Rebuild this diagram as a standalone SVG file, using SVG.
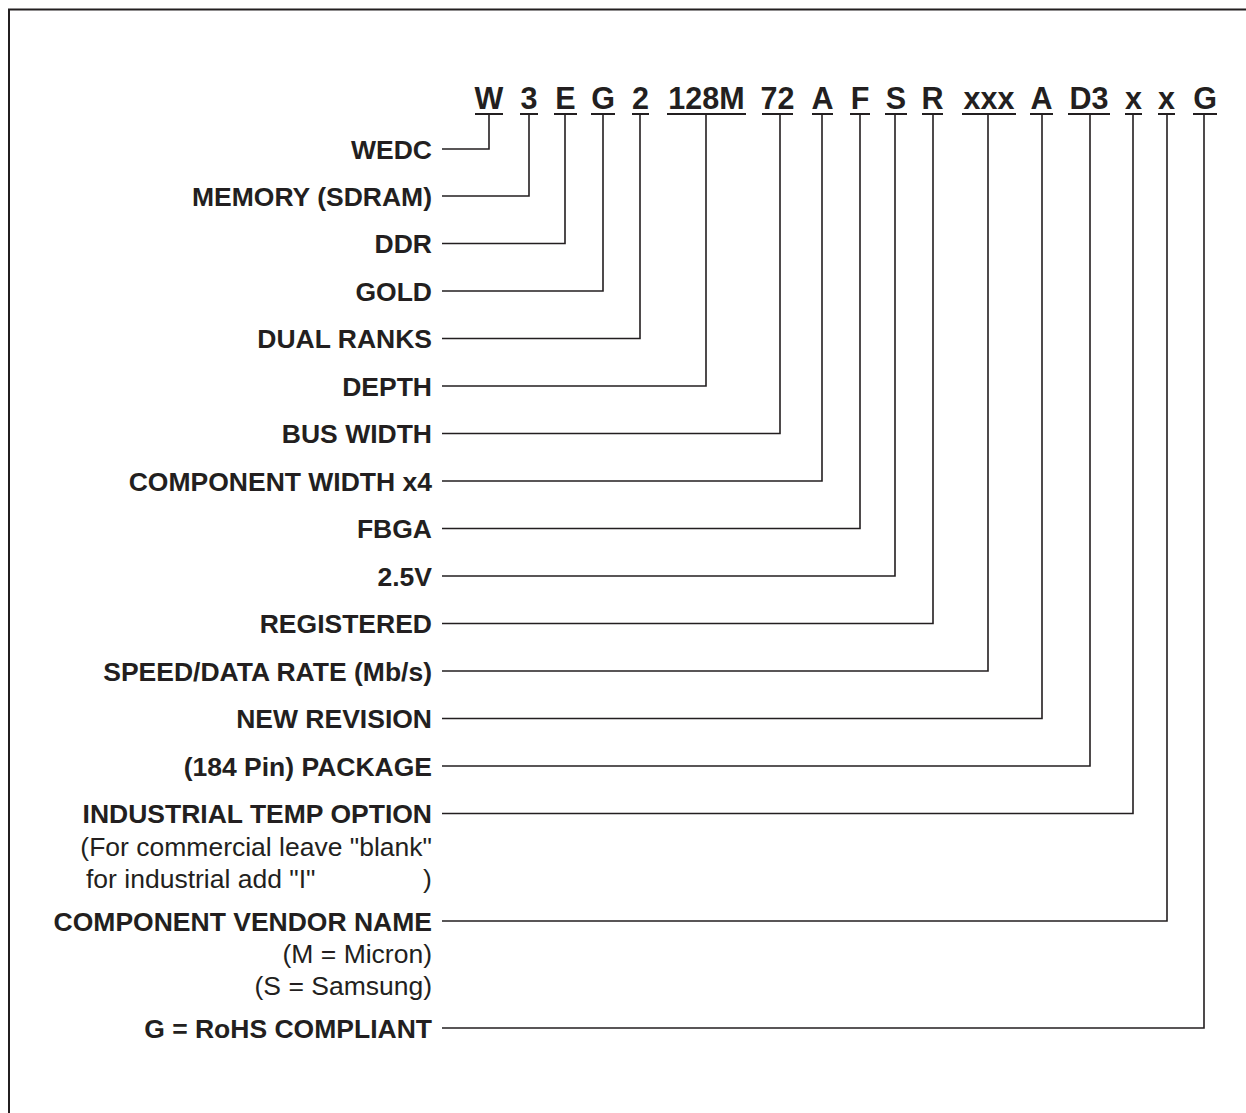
<svg xmlns="http://www.w3.org/2000/svg" width="1246" height="1113" viewBox="0 0 1246 1113">
<style>
.lbl{font-family:"Liberation Sans",Arial,sans-serif;font-weight:bold;font-size:26.5px;fill:#231f20;text-anchor:end}
.sub{font-family:"Liberation Sans",Arial,sans-serif;font-size:26.5px;fill:#231f20}
.hdr{font-family:"Liberation Sans",Arial,sans-serif;font-weight:bold;font-size:30.5px;fill:#231f20;text-anchor:middle}
.ul{stroke:#231f20;stroke-width:2;fill:none}
.con{stroke:#231f20;stroke-width:1.6;fill:none}
</style>
<rect x="9" y="9.5" width="1400" height="1300" fill="#fff" stroke="#231f20" stroke-width="2"/>
<g id="code">
<text class="hdr" x="489" y="109">W</text>
<text class="hdr" x="529" y="109">3</text>
<text class="hdr" x="565.5" y="109">E</text>
<text class="hdr" x="603" y="109">G</text>
<text class="hdr" x="640.5" y="109">2</text>
<text class="hdr" x="706.5" y="109">128M</text>
<text class="hdr" x="777.5" y="109">72</text>
<text class="hdr" x="822.5" y="109">A</text>
<text class="hdr" x="860" y="109">F</text>
<text class="hdr" x="896" y="109">S</text>
<text class="hdr" x="932.5" y="109">R</text>
<text class="hdr" x="989" y="109">xxx</text>
<text class="hdr" x="1041.5" y="109">A</text>
<text class="hdr" x="1089" y="109">D3</text>
<text class="hdr" x="1133.5" y="109">x</text>
<text class="hdr" x="1166.5" y="109">x</text>
<text class="hdr" x="1205" y="109">G</text>
<path class="ul" d="M475 114H503M520 114H538M554 114H577M591 114H615M632 114H649M667 114H746M762 114H793M812 114H833M850 114H870M885 114H907M922 114H943M962 114H1016M1030 114H1053M1068 114H1110M1125 114H1142M1158 114H1175M1193 114H1217"/>
</g>
<g id="labels">
<g id="n-wedc"><text class="lbl" x="432" y="158.5">WEDC</text></g>
<g id="n-memory"><text class="lbl" x="432" y="205.5">MEMORY (SDRAM)</text></g>
<g id="n-ddr"><text class="lbl" x="432" y="253">DDR</text></g>
<g id="n-gold"><text class="lbl" x="432" y="300.5">GOLD</text></g>
<g id="n-dual"><text class="lbl" x="432" y="348">DUAL RANKS</text></g>
<g id="n-depth"><text class="lbl" x="432" y="395.5">DEPTH</text></g>
<g id="n-bus"><text class="lbl" x="432" y="443">BUS WIDTH</text></g>
<g id="n-comp"><text class="lbl" x="432" y="490.5">COMPONENT WIDTH x4</text></g>
<g id="n-fbga"><text class="lbl" x="432" y="538">FBGA</text></g>
<g id="n-volt"><text class="lbl" x="432" y="585.5">2.5V</text></g>
<g id="n-reg"><text class="lbl" x="432" y="633">REGISTERED</text></g>
<g id="n-speed"><text class="lbl" x="432" y="680.5">SPEED/DATA RATE (Mb/s)</text></g>
<g id="n-rev"><text class="lbl" x="432" y="728">NEW REVISION</text></g>
<g id="n-pkg"><text class="lbl" x="432" y="775.5">(184 Pin) PACKAGE</text></g>
<g id="n-ind"><text class="lbl" x="432" y="823">INDUSTRIAL TEMP OPTION</text>
<text class="sub" x="432" y="856" text-anchor="end">(For commercial leave "blank"</text>
<text class="sub" x="86" y="888">for industrial add "I"<tspan x="423">)</tspan></text></g>
<g id="n-vendor"><text class="lbl" x="432" y="930.5">COMPONENT VENDOR NAME</text>
<text class="sub" x="432" y="963" text-anchor="end">(M = Micron)</text>
<text class="sub" x="432" y="995" text-anchor="end">(S = Samsung)</text></g>
<g id="n-rohs"><text class="lbl" x="432" y="1037.5">G = RoHS COMPLIANT</text></g>
</g>
<g id="connectors" class="con">
<path d="M442 149H489V114"/>
<path d="M442 196H529V114"/>
<path d="M442 243.5H565V114"/>
<path d="M442 291H603V114"/>
<path d="M442 338.5H640V114"/>
<path d="M442 386H706V114"/>
<path d="M442 433.5H780V114"/>
<path d="M442 481H822V114"/>
<path d="M442 528.5H860V114"/>
<path d="M442 576H895V114"/>
<path d="M442 623.5H933V114"/>
<path d="M442 671H988V114"/>
<path d="M442 718.5H1042V114"/>
<path d="M442 766H1090V114"/>
<path d="M442 813.5H1133V114"/>
<path d="M442 921H1167V114"/>
<path d="M442 1028H1204V114"/>
</g>
</svg>
